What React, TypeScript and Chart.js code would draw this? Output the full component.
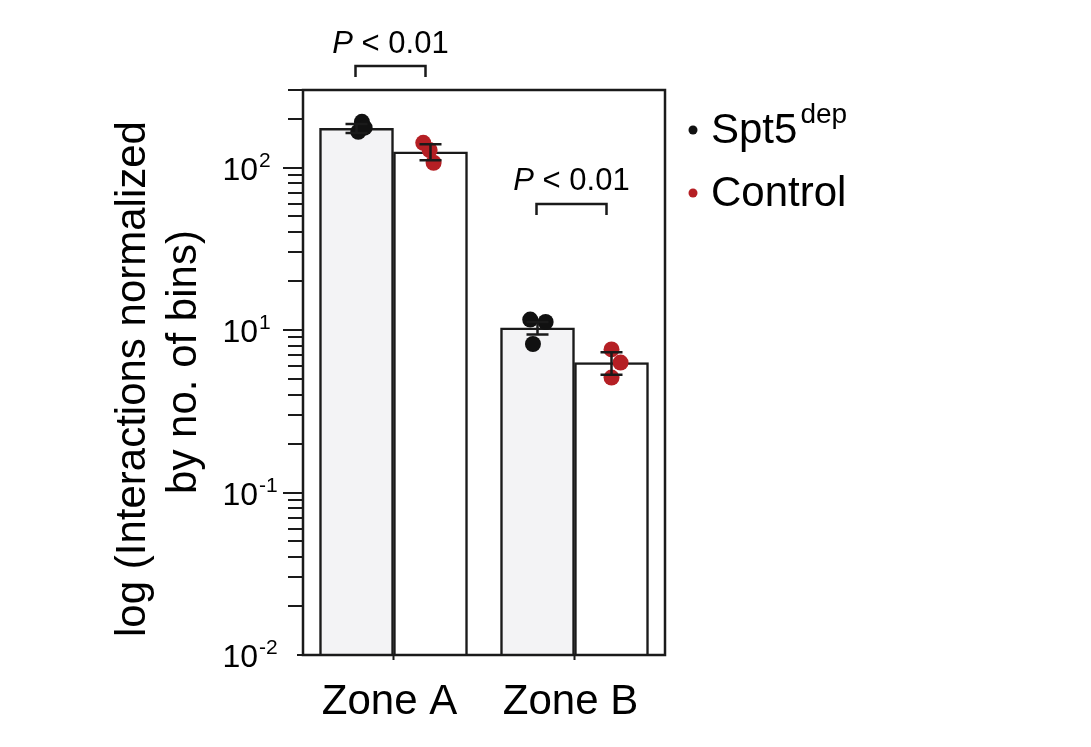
import React, { useEffect, useRef } from "react";
import { Chart, registerables } from "chart.js";

Chart.register(...registerables);

// ---------- data ----------
const CATEGORIES = ["Zone A", "Zone B"];
const SERIES_NAMES = ["Spt5", "Control"];
const SERIES_SUPERSCRIPTS = ["dep", ""];
const SPT5_MEANS = [174, 10.3];
const CONTROL_MEANS = [125, 6.3];
const SPT5_SD = [11, 0.9];
const CONTROL_SD = [14, 1.0];
const SPT5_REPLICATES = [
  [191, 166, 176],
  [11.6, 11.2, 8.2],
];
const CONTROL_REPLICATES = [
  [142, 128, 107],
  [7.6, 6.3, 5.1],
];
// small horizontal jitter of replicate dots (category units)
const SPT5_JITTER = [
  [0.03, 0.01, 0.045],
  [-0.04, 0.045, -0.025],
];
const CONTROL_JITTER = [
  [-0.04, -0.005, 0.017],
  [0, 0.05, 0],
];
const Y_MIN = 0.1;
const Y_MAX = 300;
const TICK_VALUES = [100, 10, 1, 0.1];
const TICK_BASE = "10";
const TICK_EXPONENTS = ["2", "1", "-1", "-2"];
const P_LABEL_ITALIC = "P";
const P_LABEL_REST = " < 0.01";
const Y_TITLE_LINES = ["log (Interactions normalized", "by no. of bins)"];

// ---------- style ----------
const SPT5_FILL = "#f3f3f5";
const CONTROL_FILL = "#ffffff";
const SPT5_DOT = "#111111";
const CONTROL_DOT = "#b51f24";
const INK = "#1a1a1a";
const FONT = "'Liberation Sans', Arial, Helvetica, sans-serif";
const BAR_THICKNESS = 74;
const BAR_OFFSET = 0.2045; // half bar width in category units

function dotData(reps: number[][], jit: number[][], side: number) {
  const out: { x: number; y: number }[] = [];
  reps.forEach((vals, i) => {
    vals.forEach((v, j) => {
      out.push({ x: i + side * BAR_OFFSET + jit[i][j], y: v });
    });
  });
  return out;
}

const decorPlugin = {
  id: "decor",
  afterDatasetsDraw(chart: any) {
    const ctx = chart.ctx as CanvasRenderingContext2D;
    const y = chart.scales.y;
    ctx.save();
    ctx.strokeStyle = INK;
    ctx.lineCap = "butt";
    const drawErr = (metaIdx: number, means: number[], sds: number[]) => {
      const meta = chart.getDatasetMeta(metaIdx);
      meta.data.forEach((bar: any, i: number) => {
        const cx = bar.x;
        const yHi = y.getPixelForValue(means[i] + sds[i]);
        const yLo = y.getPixelForValue(means[i] - sds[i]);
        ctx.lineWidth = 2.5;
        ctx.beginPath();
        ctx.moveTo(cx, yHi);
        ctx.lineTo(cx, yLo);
        ctx.moveTo(cx - 11, yHi);
        ctx.lineTo(cx + 11, yHi);
        ctx.moveTo(cx - 11, yLo);
        ctx.lineTo(cx + 11, yLo);
        ctx.stroke();
      });
    };
    drawErr(2, SPT5_MEANS, SPT5_SD);
    drawErr(3, CONTROL_MEANS, CONTROL_SD);
    ctx.restore();
  },
  afterDraw(chart: any) {
    const ctx = chart.ctx as CanvasRenderingContext2D;
    const y = chart.scales.y;
    const x = chart.scales.x;
    const area = chart.chartArea;
    ctx.save();
    ctx.strokeStyle = INK;
    ctx.fillStyle = "#000";

    // frame
    ctx.lineWidth = 2.5;
    ctx.strokeRect(area.left, area.top, area.right - area.left, area.bottom - area.top);

    // y ticks (major + minor)
    ctx.lineWidth = 2;
    for (let k = -1; k <= 2; k++) {
      for (let m = 1; m <= 9; m++) {
        const v = m * Math.pow(10, k);
        if (v < Y_MIN - 1e-9 || v > Y_MAX + 1e-9) continue;
        const py = Math.round(y.getPixelForValue(v));
        let len = m === 1 ? 20 : 15;
        if (Math.abs(v - Y_MIN) < 1e-9) len = 6;
        ctx.beginPath();
        ctx.moveTo(area.left - len, py);
        ctx.lineTo(area.left, py);
        ctx.stroke();
      }
    }

    // x ticks at category centres
    CATEGORIES.forEach((_, i) => {
      const px = x.getPixelForValue(i);
      ctx.beginPath();
      ctx.moveTo(px, area.bottom);
      ctx.lineTo(px, area.bottom + 5);
      ctx.stroke();
    });

    // y tick labels
    TICK_VALUES.forEach((v, i) => {
      const py = y.getPixelForValue(v);
      ctx.font = `32px ${FONT}`;
      ctx.textAlign = "right";
      ctx.textBaseline = "alphabetic";
      ctx.fillText(TICK_BASE, 258, py + 12);
      ctx.font = `21px ${FONT}`;
      ctx.textAlign = "left";
      ctx.fillText(TICK_EXPONENTS[i], 259, py - 1);
    });

    // x category labels
    ctx.font = `42px ${FONT}`;
    ctx.textAlign = "center";
    CATEGORIES.forEach((c, i) => {
      const px = x.getPixelForValue(i);
      ctx.fillText(c, px - 4, 714);
    });

    // y title
    ctx.font = `42px ${FONT}`;
    ctx.textAlign = "center";
    const titlePos = [
      [145, 379],
      [196, 362],
    ];
    Y_TITLE_LINES.forEach((line, i) => {
      ctx.save();
      ctx.translate(titlePos[i][0], titlePos[i][1]);
      ctx.rotate(-Math.PI / 2);
      ctx.fillText(line, 0, 0);
      ctx.restore();
    });

    // significance brackets
    const m0 = chart.getDatasetMeta(2);
    const m1 = chart.getDatasetMeta(3);
    const brackets = [
      { yLine: 66, yText: 53 },
      { yLine: 204, yText: 190 },
    ];
    brackets.forEach((b, i) => {
      const x1 = m0.data[i].x - 1;
      const x2 = m1.data[i].x - 5;
      ctx.lineWidth = 2.5;
      ctx.beginPath();
      ctx.moveTo(x1, b.yLine + 11);
      ctx.lineTo(x1, b.yLine);
      ctx.lineTo(x2, b.yLine);
      ctx.lineTo(x2, b.yLine + 11);
      ctx.stroke();
      const cx = (x1 + x2) / 2;
      ctx.font = `italic 31px ${FONT}`;
      const w1 = ctx.measureText(P_LABEL_ITALIC).width;
      ctx.font = `31px ${FONT}`;
      const w2 = ctx.measureText(P_LABEL_REST).width;
      const start = cx - (w1 + w2) / 2;
      ctx.textAlign = "left";
      ctx.font = `italic 31px ${FONT}`;
      ctx.fillText(P_LABEL_ITALIC, start, b.yText);
      ctx.font = `31px ${FONT}`;
      ctx.fillText(P_LABEL_REST, start + w1, b.yText);
    });

    // legend
    const legendRows = [
      { dot: SPT5_DOT, y: 130, base: 143 },
      { dot: CONTROL_DOT, y: 193, base: 206 },
    ];
    legendRows.forEach((r, i) => {
      ctx.fillStyle = r.dot;
      ctx.beginPath();
      ctx.arc(693, r.y, 4.5, 0, Math.PI * 2);
      ctx.fill();
      ctx.fillStyle = "#000";
      ctx.textAlign = "left";
      ctx.font = `42px ${FONT}`;
      ctx.fillText(SERIES_NAMES[i], 711, r.base);
      if (SERIES_SUPERSCRIPTS[i]) {
        const w = ctx.measureText(SERIES_NAMES[i]).width;
        ctx.font = `28px ${FONT}`;
        ctx.fillText(SERIES_SUPERSCRIPTS[i], 711 + w + 3, r.base - 20);
      }
    });

    ctx.restore();
  },
};

export default function App() {
  const ref = useRef<HTMLCanvasElement | null>(null);
  useEffect(() => {
    if (!ref.current) return;
    const chart = new Chart(ref.current, {
      type: "bar",
      data: {
        labels: CATEGORIES,
        datasets: [
          {
            type: "scatter",
            label: SERIES_NAMES[0] + " replicates",
            data: dotData(SPT5_REPLICATES, SPT5_JITTER, -1),
            xAxisID: "xPts",
            yAxisID: "y",
            backgroundColor: SPT5_DOT,
            borderWidth: 0,
            pointRadius: 8,
            order: 0,
          } as any,
          {
            type: "scatter",
            label: SERIES_NAMES[1] + " replicates",
            data: dotData(CONTROL_REPLICATES, CONTROL_JITTER, 1),
            xAxisID: "xPts",
            yAxisID: "y",
            backgroundColor: CONTROL_DOT,
            borderWidth: 0,
            pointRadius: 8,
            order: 0,
          } as any,
          {
            type: "bar",
            label: SERIES_NAMES[0],
            data: SPT5_MEANS,
            backgroundColor: SPT5_FILL,
            borderColor: INK,
            borderWidth: { top: 2.5, left: 2.5, right: 2.5, bottom: 0 },
            borderSkipped: false,
            barThickness: BAR_THICKNESS,
            xAxisID: "x",
            yAxisID: "y",
            order: 1,
          } as any,
          {
            type: "bar",
            label: SERIES_NAMES[1],
            data: CONTROL_MEANS,
            backgroundColor: CONTROL_FILL,
            borderColor: INK,
            borderWidth: { top: 2.5, left: 2.5, right: 2.5, bottom: 0 },
            borderSkipped: false,
            barThickness: BAR_THICKNESS,
            xAxisID: "x",
            yAxisID: "y",
            order: 1,
          } as any,
        ],
      },
      options: {
        responsive: false,
        animation: false,
        devicePixelRatio: 1,
        layout: { padding: { left: 303, right: 426, top: 90, bottom: 92 } },
        plugins: {
          legend: { display: false },
          tooltip: { enabled: false },
        },
        scales: {
          x: { type: "category", display: false, offset: true },
          xPts: { type: "linear", display: false, min: -0.5, max: 1.5, offset: false },
          y: { type: "logarithmic", display: false, min: Y_MIN, max: Y_MAX },
        },
      } as any,
      plugins: [decorPlugin],
    });
    return () => chart.destroy();
  }, []);

  return (
    <div style={{ position: "fixed", left: 0, top: 0, width: 1091, height: 747, background: "#fff" }}>
      <canvas ref={ref} width={1091} height={747} style={{ display: "block", width: 1091, height: 747 }} />
    </div>
  );
}
